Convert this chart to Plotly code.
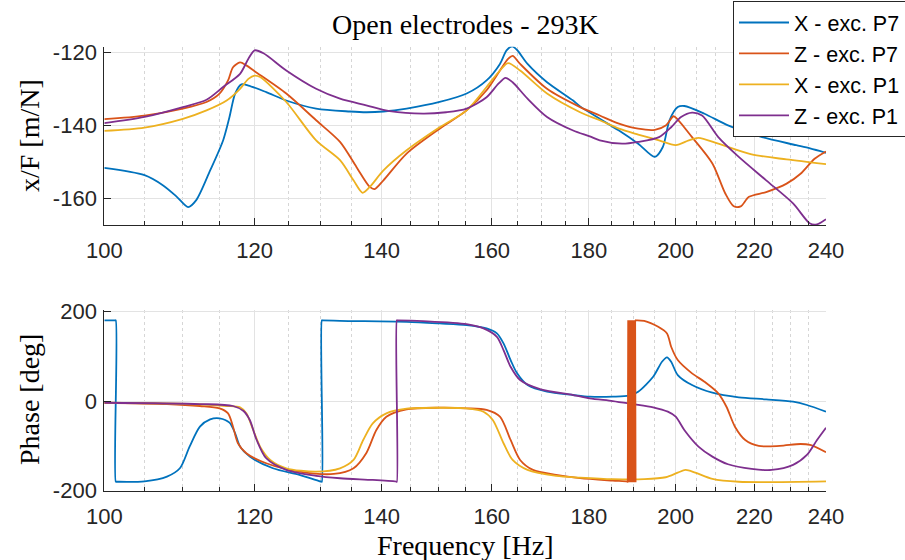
import math
import plotly.graph_objects as go

# ---------------- data ----------------
# Magnitude x/F [dB ref m/N] versus frequency [Hz]
mag_x_p7_f = [100, 105, 107.4, 109.2, 110.7, 111.8, 113.7, 115.5, 116.4, 117.2, 118.1, 119.1,
              121.7, 124.7, 129.3, 134.7, 137.4, 140.3, 144.3, 150.2, 155.2, 159, 161.6, 162.9,
              164, 165, 167.1, 171.1, 176.6, 178.1, 182.4, 186.7, 191.1, 195, 196.9, 198.5,
              200.5, 202.1, 207.1, 213.1, 222.1, 231.5, 235.4, 240]
mag_x_p7 = [-151.6, -153.6, -156.4, -159.5, -162.3, -160.4, -152.3, -144.1, -137.7, -131.3, -128.8, -129.1,
            -130.9, -133.2, -135.4, -136.2, -136.4, -136.2, -135.4, -133.6, -131.3, -127.7, -123.2, -119.5,
            -118.4, -119.4, -123.2, -128.2, -133.2, -134.8, -138.2, -141.4, -145.0, -148.6, -145.9, -138.6,
            -135.0, -134.7, -136.8, -140.0, -143.2, -145.4, -146.3, -147.5]

mag_z_p7_f = [100, 105, 110, 113.2, 115, 116.2, 116.9, 117.9, 118.8, 120, 124.7, 129.3, 133.1,
              135.8, 138, 138.8, 140.3, 144.3, 150.2, 155.2, 159, 161.6, 163.2, 164.1, 165.6,
              171.1, 178.1, 182.4, 186.7, 191.1, 195, 197.6, 199.5, 200.5, 204, 209.1, 212.4,
              214.6, 216.4, 218.6, 223.2, 228.8, 232.7, 236.7, 240]
mag_z_p7 = [-138.3, -137.3, -135.4, -133.6, -131.3, -127.7, -124.1, -122.8, -123.6, -125.2, -131.3, -138.6, -144.5,
            -151.4, -156.8, -157.4, -155.0, -147.7, -140.9, -135.9, -130.4, -125.0, -121.8, -121.0, -123.2,
            -130.0, -135.0, -137.3, -139.5, -140.9, -141.2, -140.0, -137.5, -138.4, -143.2, -150.4, -158.6,
            -162.1, -162.1, -159.5, -158.2, -155.9, -153.2, -149.1, -147.1]

mag_x_p1_f = [100, 105, 110, 113.2, 116, 117.9, 119.1, 120, 120.8, 124.7, 129.3, 133.1, 135.3,
              136.8, 138, 140.3, 144.3, 150.2, 155.2, 159, 161.6, 163.2, 165.6, 171.1, 178.1,
              182.4, 186.7, 191.1, 196, 200, 203.2, 205.6, 210.6, 219.3, 228.8, 240]
mag_x_p1 = [-141.5, -140.6, -138.2, -135.9, -133.2, -130.0, -127.3, -126.4, -126.8, -133.6, -144.1, -149.5, -155.0,
            -158.4, -156.8, -152.3, -146.8, -140.5, -135.9, -129.5, -125.0, -123.0, -125.0, -131.3, -136.4,
            -138.6, -140.9, -142.5, -144.1, -145.4, -144.1, -143.4, -145.0, -147.9, -149.3, -150.6]

mag_z_p1_f = [100, 105, 110, 113.2, 115.5, 117.9, 119.1, 120, 121.3, 124.7, 129.3, 133.1, 137.4,
              141.4, 147.2, 151.4, 155.2, 159, 161.3, 162.7, 164.1, 167.1, 171.1, 176.6, 180.2,
              182.4, 187.4, 191.1, 196, 198.9, 201.3, 204, 206.5, 210.6, 215.9, 223.2, 230.6,
              235.4, 237.4, 240]
mag_z_p1 = [-139.4, -137.7, -135.0, -133.0, -129.5, -125.9, -121.8, -119.5, -120.3, -125.0, -130.0, -132.7, -134.5,
            -136.1, -136.8, -136.4, -135.4, -132.3, -128.6, -127.0, -128.2, -132.7, -137.7, -141.4, -143.0,
            -144.1, -145.0, -144.5, -143.2, -140.5, -137.7, -136.5, -137.3, -143.2, -148.6, -155.0, -161.3,
            -166.8, -167.0, -165.6]

# Phase [deg] versus frequency [Hz]
ph_x_p7_f = [100, 101.3, 101.4, 101.4, 101.5, 105, 107.9, 109.6, 110.9, 112.3, 113.7, 115, 116.4,
             117.2, 117.9, 119.3, 122.7, 126.7, 130.1, 130.2, 130.2, 130.3, 133.1, 144.3, 150.2,
             155.2, 159, 161, 162.3, 163.7, 165, 167.1, 171.1, 176.6, 180.2, 185.3, 189, 191.1,
             194.6, 196.7, 197.9, 198.9, 200.5, 204, 209.1, 215.9, 223.2, 230.6, 234.5, 240]
ph_x_p7 = [180, 180, 180, -180, -180, -179, -168.5, -150, -101.7, -57, -40.9, -38.6, -48.2,
           -72, -101.7, -124, -150, -164.8, -179.7, -180, 180, 180, 178.8, 176.6, 173,
           169.3, 161.9, 150.8, 128.5, 91.3, 61.7, 35.6, 20.7, 13.4, 9.6, 9.6, 11.8, 20.7,
           54.1, 87.5, 97.3, 87.5, 57.9, 35.6, 18.5, 8.2, 3.8, -1.5, -8.9, -23.8]

ph_z_p7_f = [100, 107.9, 112.3, 115, 116.2, 116.9, 117.6, 118.8, 121.7, 126.7, 132.1, 135.3, 137.4,
             139.1, 140.8, 144.3, 150.2, 155.2, 159, 161.6, 163.7, 165.6, 168.2, 173, 178.1,
             185.3, 188.6, 188.7, 190.5, 190.6, 192.5, 195.8, 197.9, 198.9, 200.5, 204, 207.1,
             210.6, 212.7, 214.9, 217.6, 221.2, 226.9, 232.7, 235.4, 240]
ph_z_p7 = [-3.8, -6.7, -11.1, -16.3, -27.4, -57.2, -94.2, -116.5, -138.8, -157.4, -162.6, -150, -116.5,
           -64.6, -35, -18.5, -14.9, -16.3, -20, -35, -86.9, -131.4, -153.7, -164.8, -172.2,
           -177.5, -179.5, -180, 180, 180, 179, 165.5, 150.8, 121, 91.3, 61.7, 43,
           17.1, -12.7, -57.2, -86.9, -100.2, -100, -95.8, -98, -114.3]

# Phase wrapping back and forth between -180 and +180 around 189-190 Hz
wrap_f = [188.7, 188.8, 188.9, 189.0, 189.1, 189.2, 189.3, 189.4, 189.5, 189.6,
          189.7, 189.8, 189.9, 190.0, 190.1, 190.2, 190.3, 190.4, 190.5]
wrap_ph = [-181, 180, -181, 180, -181, 180, -181, 180, -181, 180,
           -181, 180, -181, 180, -181, 180, -181, 180, -181]

ph_x_p1_f = [100, 107.9, 112.3, 116, 117.9, 118.8, 119.8, 120.8, 122.3, 124.7, 129.3, 133.1, 135.3,
             136.9, 138.5, 140.8, 144.3, 150.2, 155.2, 158.4, 160.2, 162.3, 164.1, 167.1, 173,
             178.1, 185.3, 192.5, 197.6, 200.5, 202.4, 204.8, 209.1, 215.9, 240]
ph_x_p1 = [-3.8, -5.5, -7.4, -11.1, -14, -27.4, -64.6, -101.7, -131.4, -150, -157.4, -150, -131.4,
           -86.9, -49.7, -27.4, -17.1, -15, -16.3, -23.8, -42.3, -94.2, -131.4, -153.7, -167,
           -170.8, -174.4, -174.4, -170, -159.7, -153.7, -159.7, -173.7, -180, -179]

ph_z_p1_f = [100, 112.3, 116.9, 118.4, 119.3, 120.3, 121.7, 124.7, 129.3, 133.1, 138.5, 142.5,
             142.6, 142.6, 142.7, 147.2, 155.2, 158.4, 161, 162.3, 163.7, 165.6, 169.8, 176.6,
             180.2, 185.3, 189.8, 194.6, 198.1, 200, 202.1, 205.6, 209.1, 213.1, 219.3, 224.7,
             230.6, 234.5, 237.4, 240]
ph_z_p1 = [-3.8, -6.7, -11.1, -22.3, -42.3, -86.9, -127.6, -153.7, -167, -172.2, -176, -179.5,
           -180, 180, 180, 178.2, 171.5, 161.9, 143.2, 113.6, 76.4, 46.8, 26, 13.4,
           6, 0, -6.7, -14, -23.8, -35, -64.6, -101.7, -124, -141, -151.4, -153.7,
           -142.5, -120.3, -86.9, -59.5]

names = ["X - exc. P7", "Z - exc. P7", "X - exc. P1", "Z - exc. P1"]
colors = ["#0072BD", "#D95319", "#EDB120", "#7E2F8E"]

major_ticks = [100, 120, 140, 160, 180, 200, 220, 240]
minor_ticks = [105, 110, 115, 125, 130, 135, 145, 150, 155, 165, 170, 175,
               185, 190, 195, 205, 210, 215, 225, 230, 235]

# ---------------- figure ----------------
W, H = 905, 560
AX = "#262626"
LW = 1.8

fig = go.Figure()

mag_sets = [(mag_x_p7_f, mag_x_p7), (mag_z_p7_f, mag_z_p7),
            (mag_x_p1_f, mag_x_p1), (mag_z_p1_f, mag_z_p1)]
for (f, v), name, c in zip(mag_sets, names, colors):
    fig.add_trace(go.Scatter(x=f, y=v, name=name, mode="lines",
                             line=dict(color=c, width=LW, shape="spline", smoothing=0.8),
                             xaxis="x", yaxis="y"))

ph_sets = [(ph_x_p7_f, ph_x_p7), (ph_z_p7_f, ph_z_p7),
           (ph_x_p1_f, ph_x_p1), (ph_z_p1_f, ph_z_p1)]
for (f, v), name, c in zip(ph_sets, names, colors):
    fig.add_trace(go.Scatter(x=f, y=v, name=name, mode="lines", showlegend=False,
                             line=dict(color=c, width=LW, shape="spline", smoothing=0.8),
                             xaxis="x2", yaxis="y2"))
fig.add_trace(go.Scatter(x=wrap_f, y=wrap_ph, mode="lines", showlegend=False,
                         line=dict(color=colors[1], width=LW),
                         xaxis="x2", yaxis="y2"))

x_dom = [104.3 / W, 826 / W]
top_dom = [1 - 225 / H, 1 - 46.7 / H]
bot_dom = [1 - 490.7 / H, 1 - 310 / H]

tick_font = dict(family="Liberation Sans, Arial, sans-serif", size=22, color=AX)


def x_axis(domain_anchor):
    return dict(
        type="log", range=[2, math.log10(240)], domain=x_dom, anchor=domain_anchor,
        tickmode="array", tickvals=major_ticks, ticktext=[str(t) for t in major_ticks],
        ticks="inside", ticklen=7, tickwidth=1, tickcolor=AX,
        showline=True, linecolor=AX, linewidth=1, mirror=False,
        showgrid=True, gridcolor="#e3e3e3", gridwidth=1, zeroline=False,
        minor=dict(tickmode="array", tickvals=minor_ticks, ticks="inside", ticklen=4,
                   tickcolor=AX, showgrid=True, gridcolor="#d6d6d6", griddash="dot",
                   gridwidth=1),
        tickfont=tick_font, ticklabelstandoff=6, automargin=False,
    )


def y_axis(domain, rng, ticks, anchor):
    return dict(
        domain=domain, range=rng, anchor=anchor,
        tickmode="array", tickvals=ticks, ticktext=[str(t) for t in ticks],
        ticks="inside", ticklen=7, tickwidth=1, tickcolor=AX,
        showline=True, linecolor=AX, linewidth=1, mirror=False,
        showgrid=True, gridcolor="#e3e3e3", gridwidth=1, zeroline=False,
        tickfont=tick_font, ticklabelstandoff=2, automargin=False,
    )


serif = dict(family="Liberation Serif, Times New Roman, serif", size=28, color="black")

fig.update_layout(
    width=W, height=H, autosize=False,
    margin=dict(l=0, r=0, t=0, b=0, autoexpand=False),
    paper_bgcolor="white", plot_bgcolor="white",
    xaxis=x_axis("y"),
    yaxis=y_axis(top_dom, [-167.2, -118.5], [-160, -140, -120], "x"),
    xaxis2=x_axis("y2"),
    yaxis2=y_axis(bot_dom, [-200, 203], [-200, 0, 200], "x2"),
    legend=dict(x=733 / W, y=1 - 1 / H, xanchor="left", yanchor="top",
                bgcolor="white", bordercolor=AX, borderwidth=1,
                font=dict(family="Liberation Sans, Arial, sans-serif", size=21.5, color="black"),
                tracegroupgap=0, itemwidth=50),
    showlegend=True,
    annotations=[
        dict(text="Open electrodes - 293K", x=465 / W, y=1 - 25 / H, xref="paper", yref="paper",
             xanchor="center", yanchor="middle", showarrow=False, font=serif),
        dict(text="x/F [m/N]", x=29 / W, y=1 - 136 / H, xref="paper", yref="paper",
             xanchor="center", yanchor="middle", showarrow=False, font=serif, textangle=-90),
        dict(text="Phase [deg]", x=29 / W, y=1 - 400 / H, xref="paper", yref="paper",
             xanchor="center", yanchor="middle", showarrow=False, font=serif, textangle=-90),
        dict(text="Frequency [Hz]", x=465 / W, y=1 - 545 / H, xref="paper", yref="paper",
             xanchor="center", yanchor="middle", showarrow=False, font=serif),
    ],
)

fig.write_html("out.html")
